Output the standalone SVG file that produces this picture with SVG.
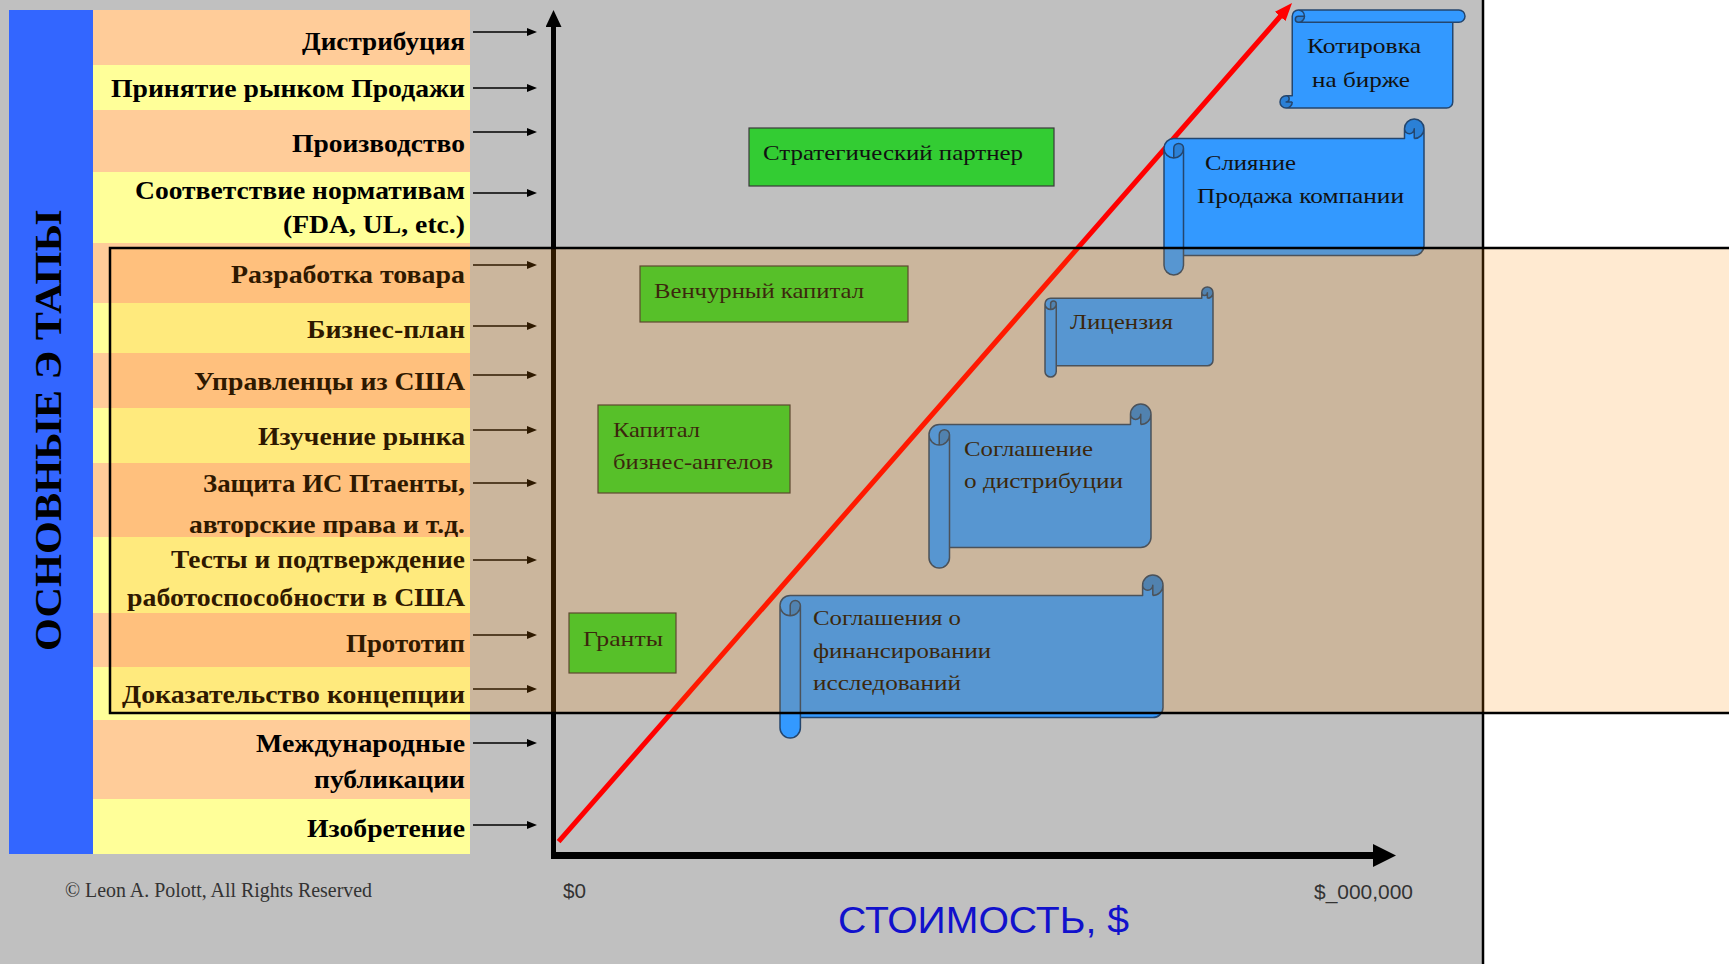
<svg xmlns="http://www.w3.org/2000/svg" width="1729" height="964" viewBox="0 0 1729 964">
<style>
.lbl{font-family:"Liberation Serif","Times New Roman",serif;font-weight:bold;font-size:25px;fill:#000;text-anchor:end}
.nt{font-family:"Liberation Serif","Times New Roman",serif;font-size:22px;fill:#111}
.or{fill:#FFCC99}.ye{fill:#FFFF99}
.arr{stroke:#000;stroke-width:1.5;fill:none;marker-end:url(#ah)}
.grn{fill:#33CC33;stroke:#3a3a3a;stroke-width:1.2}
.scr{fill:#3399FF}.scd{fill:#2B80D6}
.scs{fill:none;stroke:#24466E;stroke-width:1.5;stroke-linejoin:round}
.ax{font-family:"Liberation Sans",Arial,sans-serif;fill:#333}
</style>
<defs>
<marker id="ah" markerUnits="userSpaceOnUse" markerWidth="10" markerHeight="8" refX="2" refY="4" orient="auto"><path d="M0,0 L10,4 L0,8 Z" fill="#000"/></marker>
<marker id="ahY" markerUnits="userSpaceOnUse" markerWidth="17" markerHeight="16" refX="1" refY="8" orient="auto"><path d="M0,0 L17,8 L0,16 Z" fill="#000"/></marker>
<marker id="ahX" markerUnits="userSpaceOnUse" markerWidth="23" markerHeight="23" refX="2" refY="11.5" orient="auto"><path d="M0,0 L23,11.5 L0,23 Z" fill="#000"/></marker>
<marker id="ahR" markerUnits="userSpaceOnUse" markerWidth="18" markerHeight="14" refX="2" refY="7" orient="auto"><path d="M0,0 L18,7 L0,14 Z" fill="#FF0000"/></marker>
</defs>
<rect x="0" y="0" width="1483" height="964" fill="#C0C0C0"/>
<rect x="1483" y="0" width="246" height="964" fill="#FFFFFF"/>
<g id="title-bar">
<rect x="9" y="10" width="84" height="844" fill="#3366FF"/>
<text transform="translate(61,430.5) rotate(-90)" text-anchor="middle" textLength="441" lengthAdjust="spacingAndGlyphs" style="font-family:'Liberation Serif','Times New Roman',serif;font-weight:bold;font-size:38px;fill:#000">ОСНОВНЫЕ Э ТАПЫ</text>
</g>
<g id="stage-distribution"><rect class="or" x="93" y="10" width="377" height="55"/><text class="lbl" x="465" y="50" textLength="163" lengthAdjust="spacingAndGlyphs">Дистрибуция</text></g>
<g id="stage-market"><rect class="ye" x="93" y="65" width="377" height="45"/><text class="lbl" x="465" y="97" textLength="354" lengthAdjust="spacingAndGlyphs">Принятие рынком Продажи</text></g>
<g id="stage-production"><rect class="or" x="93" y="110" width="377" height="62"/><text class="lbl" x="465" y="152" textLength="173" lengthAdjust="spacingAndGlyphs">Производство</text></g>
<g id="stage-compliance"><rect class="ye" x="93" y="172" width="377" height="71"/><text class="lbl" x="465" y="199" textLength="330" lengthAdjust="spacingAndGlyphs">Соответствие нормативам</text><text class="lbl" x="465" y="233" textLength="182" lengthAdjust="spacingAndGlyphs">(FDA, UL, etc.)</text></g>
<g id="stage-development"><rect class="or" x="93" y="243" width="377" height="60"/><text class="lbl" x="465" y="283" textLength="234" lengthAdjust="spacingAndGlyphs">Разработка товара</text></g>
<g id="stage-bizplan"><rect class="ye" x="93" y="303" width="377" height="50"/><text class="lbl" x="465" y="338" textLength="158" lengthAdjust="spacingAndGlyphs">Бизнес-план</text></g>
<g id="stage-managers"><rect class="or" x="93" y="353" width="377" height="55"/><text class="lbl" x="465" y="390" textLength="271" lengthAdjust="spacingAndGlyphs">Управленцы из США</text></g>
<g id="stage-research"><rect class="ye" x="93" y="408" width="377" height="55"/><text class="lbl" x="465" y="445" textLength="207" lengthAdjust="spacingAndGlyphs">Изучение рынка</text></g>
<g id="stage-ip"><rect class="or" x="93" y="463" width="377" height="74"/><text class="lbl" x="465" y="492" textLength="262" lengthAdjust="spacingAndGlyphs">Защита ИС Птаенты,</text><text class="lbl" x="465" y="533" textLength="276" lengthAdjust="spacingAndGlyphs">авторские права и т.д.</text></g>
<g id="stage-tests"><rect class="ye" x="93" y="537" width="377" height="76"/><text class="lbl" x="465" y="568" textLength="294" lengthAdjust="spacingAndGlyphs">Тесты и подтверждение</text><text class="lbl" x="465" y="606" textLength="338" lengthAdjust="spacingAndGlyphs">работоспособности в США</text></g>
<g id="stage-prototype"><rect class="or" x="93" y="613" width="377" height="54"/><text class="lbl" x="465" y="652" textLength="119" lengthAdjust="spacingAndGlyphs">Прототип</text></g>
<g id="stage-concept"><rect class="ye" x="93" y="667" width="377" height="53"/><text class="lbl" x="465" y="703" textLength="343" lengthAdjust="spacingAndGlyphs">Доказательство концепции</text></g>
<g id="stage-publications"><rect class="or" x="93" y="720" width="377" height="79"/><text class="lbl" x="465" y="752" textLength="209" lengthAdjust="spacingAndGlyphs">Международные</text><text class="lbl" x="465" y="788" textLength="151" lengthAdjust="spacingAndGlyphs">публикации</text></g>
<g id="stage-invention"><rect class="ye" x="93" y="799" width="377" height="55"/><text class="lbl" x="465" y="837" textLength="158" lengthAdjust="spacingAndGlyphs">Изобретение</text></g>
<g id="connectors">
<line class="arr" x1="473" y1="32" x2="529" y2="32"/>
<line class="arr" x1="473" y1="88" x2="529" y2="88"/>
<line class="arr" x1="473" y1="132" x2="529" y2="132"/>
<line class="arr" x1="473" y1="193" x2="529" y2="193"/>
<line class="arr" x1="473" y1="265" x2="529" y2="265"/>
<line class="arr" x1="473" y1="326" x2="529" y2="326"/>
<line class="arr" x1="473" y1="375" x2="529" y2="375"/>
<line class="arr" x1="473" y1="430" x2="529" y2="430"/>
<line class="arr" x1="473" y1="483" x2="529" y2="483"/>
<line class="arr" x1="473" y1="560" x2="529" y2="560"/>
<line class="arr" x1="473" y1="635" x2="529" y2="635"/>
<line class="arr" x1="473" y1="689" x2="529" y2="689"/>
<line class="arr" x1="473" y1="743" x2="529" y2="743"/>
<line class="arr" x1="473" y1="825" x2="529" y2="825"/>
<line id="y-axis" x1="553.5" y1="858.5" x2="553.5" y2="26" stroke="#000" stroke-width="5" marker-end="url(#ahY)"/>
<line id="x-axis" x1="551" y1="855.5" x2="1375" y2="855.5" stroke="#000" stroke-width="7" marker-end="url(#ahX)"/>
<line id="value-line" x1="558.6" y1="841.7" x2="1281.5" y2="15" stroke="#FF0000" stroke-width="5" marker-end="url(#ahR)"/>
</g>
<g id="node-strategic"><rect class="grn" x="749" y="128" width="305" height="58"/><text class="nt" x="763" y="160" textLength="260" lengthAdjust="spacingAndGlyphs">Стратегический партнер</text></g>
<g id="node-venture"><rect class="grn" x="640" y="266" width="268" height="56"/><text class="nt" x="654" y="298" textLength="210" lengthAdjust="spacingAndGlyphs">Венчурный капитал</text></g>
<g id="node-angels"><rect class="grn" x="598" y="405" width="192" height="88"/><text class="nt" x="613" y="437" textLength="87" lengthAdjust="spacingAndGlyphs">Капитал</text><text class="nt" x="613" y="469" textLength="160" lengthAdjust="spacingAndGlyphs">бизнес-ангелов</text></g>
<g id="node-grants"><rect class="grn" x="569" y="613" width="107" height="60"/><text class="nt" x="583" y="646" textLength="80" lengthAdjust="spacingAndGlyphs">Гранты</text></g>
<g id="node-ipo">
<g transform="matrix(0 1 1 0 1280 10)">
<path class="scr" d="M98,6.125 A6.125,6.125 0 0 1 91.875,12.25 L91.875,6.125 A3.0625,3.0625 0 0 1 85.75,6.125 L85.75,12.25 L6.125,12.25 A6.125,6.125 0 0 0 0,18.375 L0,178.875 A6.125,6.125 0 0 0 12.25,178.875 L12.25,172.75 L91.875,172.75 A6.125,6.125 0 0 0 98,166.625 Z"/>
<path class="scd" d="M6.125,24.5 A6.125,6.125 0 0 0 12.25,18.375 A3.0625,3.0625 0 0 0 6.125,18.375 Z M91.875,12.25 A6.125,6.125 0 1 0 85.75,6.125 A3.0625,3.0625 0 0 0 91.875,6.125 Z"/>
<path class="scs" d="M0,18.375 A6.125,6.125 0 0 1 6.125,12.25 L85.75,12.25 L85.75,6.125 A6.125,6.125 0 0 1 98,6.125 L98,166.625 A6.125,6.125 0 0 1 91.875,172.75 L12.25,172.75 L12.25,178.875 A6.125,6.125 0 0 1 0,178.875 Z M91.875,12.25 A6.125,6.125 0 0 0 98,6.125 M91.875,12.25 L91.875,6.125 A3.0625,3.0625 0 0 1 85.75,6.125 M6.125,24.5 L6.125,18.375 A3.0625,3.0625 0 0 1 12.25,18.375 A6.125,6.125 0 0 1 0,18.375 M12.25,18.375 L12.25,172.75"/>
</g>
<text class="nt" x="1307" y="53" textLength="114" lengthAdjust="spacingAndGlyphs">Котировка</text>
<text class="nt" x="1312" y="87" textLength="98" lengthAdjust="spacingAndGlyphs">на бирже</text>
</g>
<g id="node-merger">
<g transform="translate(1164,119)">
<path class="scr" d="M260,9.75 A9.75,9.75 0 0 1 250.25,19.5 L250.25,9.75 A4.875,4.875 0 0 1 240.5,9.75 L240.5,19.5 L9.75,19.5 A9.75,9.75 0 0 0 0,29.25 L0,146.25 A9.75,9.75 0 0 0 19.5,146.25 L19.5,136.5 L250.25,136.5 A9.75,9.75 0 0 0 260,126.75 Z"/>
<path class="scd" d="M9.75,39 A9.75,9.75 0 0 0 19.5,29.25 A4.875,4.875 0 0 0 9.75,29.25 Z M250.25,19.5 A9.75,9.75 0 1 0 240.5,9.75 A4.875,4.875 0 0 0 250.25,9.75 Z"/>
<path class="scs" d="M0,29.25 A9.75,9.75 0 0 1 9.75,19.5 L240.5,19.5 L240.5,9.75 A9.75,9.75 0 0 1 260,9.75 L260,126.75 A9.75,9.75 0 0 1 250.25,136.5 L19.5,136.5 L19.5,146.25 A9.75,9.75 0 0 1 0,146.25 Z M250.25,19.5 A9.75,9.75 0 0 0 260,9.75 M250.25,19.5 L250.25,9.75 A4.875,4.875 0 0 1 240.5,9.75 M9.75,39 L9.75,29.25 A4.875,4.875 0 0 1 19.5,29.25 A9.75,9.75 0 0 1 0,29.25 M19.5,29.25 L19.5,136.5"/>
</g>
<text class="nt" x="1205" y="170" textLength="91" lengthAdjust="spacingAndGlyphs">Слияние</text>
<text class="nt" x="1197" y="203" textLength="207" lengthAdjust="spacingAndGlyphs">Продажа компании</text>
</g>
<g id="node-license">
<g transform="translate(1045,287)">
<path class="scr" d="M168,5.625 A5.625,5.625 0 0 1 162.375,11.25 L162.375,5.625 A2.8125,2.8125 0 0 1 156.75,5.625 L156.75,11.25 L5.625,11.25 A5.625,5.625 0 0 0 0,16.875 L0,84.375 A5.625,5.625 0 0 0 11.25,84.375 L11.25,78.75 L162.375,78.75 A5.625,5.625 0 0 0 168,73.125 Z"/>
<path class="scd" d="M5.625,22.5 A5.625,5.625 0 0 0 11.25,16.875 A2.8125,2.8125 0 0 0 5.625,16.875 Z M162.375,11.25 A5.625,5.625 0 1 0 156.75,5.625 A2.8125,2.8125 0 0 0 162.375,5.625 Z"/>
<path class="scs" d="M0,16.875 A5.625,5.625 0 0 1 5.625,11.25 L156.75,11.25 L156.75,5.625 A5.625,5.625 0 0 1 168,5.625 L168,73.125 A5.625,5.625 0 0 1 162.375,78.75 L11.25,78.75 L11.25,84.375 A5.625,5.625 0 0 1 0,84.375 Z M162.375,11.25 A5.625,5.625 0 0 0 168,5.625 M162.375,11.25 L162.375,5.625 A2.8125,2.8125 0 0 1 156.75,5.625 M5.625,22.5 L5.625,16.875 A2.8125,2.8125 0 0 1 11.25,16.875 A5.625,5.625 0 0 1 0,16.875 M11.25,16.875 L11.25,78.75"/>
</g>
<text class="nt" x="1070" y="329" textLength="103" lengthAdjust="spacingAndGlyphs">Лицензия</text>
</g>
<g id="node-distribution-agreement">
<g transform="translate(929,404)">
<path class="scr" d="M222,10.25 A10.25,10.25 0 0 1 211.75,20.5 L211.75,10.25 A5.125,5.125 0 0 1 201.5,10.25 L201.5,20.5 L10.25,20.5 A10.25,10.25 0 0 0 0,30.75 L0,153.75 A10.25,10.25 0 0 0 20.5,153.75 L20.5,143.5 L211.75,143.5 A10.25,10.25 0 0 0 222,133.25 Z"/>
<path class="scd" d="M10.25,41 A10.25,10.25 0 0 0 20.5,30.75 A5.125,5.125 0 0 0 10.25,30.75 Z M211.75,20.5 A10.25,10.25 0 1 0 201.5,10.25 A5.125,5.125 0 0 0 211.75,10.25 Z"/>
<path class="scs" d="M0,30.75 A10.25,10.25 0 0 1 10.25,20.5 L201.5,20.5 L201.5,10.25 A10.25,10.25 0 0 1 222,10.25 L222,133.25 A10.25,10.25 0 0 1 211.75,143.5 L20.5,143.5 L20.5,153.75 A10.25,10.25 0 0 1 0,153.75 Z M211.75,20.5 A10.25,10.25 0 0 0 222,10.25 M211.75,20.5 L211.75,10.25 A5.125,5.125 0 0 1 201.5,10.25 M10.25,41 L10.25,30.75 A5.125,5.125 0 0 1 20.5,30.75 A10.25,10.25 0 0 1 0,30.75 M20.5,30.75 L20.5,143.5"/>
</g>
<text class="nt" x="964" y="456" textLength="129" lengthAdjust="spacingAndGlyphs">Соглашение</text>
<text class="nt" x="964" y="488" textLength="159" lengthAdjust="spacingAndGlyphs">о дистрибуции</text>
</g>
<g id="node-research-funding">
<g transform="translate(780,575)">
<path class="scr" d="M383,10.2 A10.2,10.2 0 0 1 372.8,20.4 L372.8,10.2 A5.1,5.1 0 0 1 362.6,10.2 L362.6,20.4 L10.2,20.4 A10.2,10.2 0 0 0 0,30.6 L0,152.8 A10.2,10.2 0 0 0 20.4,152.8 L20.4,142.6 L372.8,142.6 A10.2,10.2 0 0 0 383,132.4 Z"/>
<path class="scd" d="M10.2,40.8 A10.2,10.2 0 0 0 20.4,30.6 A5.1,5.1 0 0 0 10.2,30.6 Z M372.8,20.4 A10.2,10.2 0 1 0 362.6,10.2 A5.1,5.1 0 0 0 372.8,10.2 Z"/>
<path class="scs" d="M0,30.6 A10.2,10.2 0 0 1 10.2,20.4 L362.6,20.4 L362.6,10.2 A10.2,10.2 0 0 1 383,10.2 L383,132.4 A10.2,10.2 0 0 1 372.8,142.6 L20.4,142.6 L20.4,152.8 A10.2,10.2 0 0 1 0,152.8 Z M372.8,20.4 A10.2,10.2 0 0 0 383,10.2 M372.8,20.4 L372.8,10.2 A5.1,5.1 0 0 1 362.6,10.2 M10.2,40.8 L10.2,30.6 A5.1,5.1 0 0 1 20.4,30.6 A10.2,10.2 0 0 1 0,30.6 M20.4,30.6 L20.4,142.6"/>
</g>
<text class="nt" x="813" y="625" textLength="148" lengthAdjust="spacingAndGlyphs">Соглашения о</text>
<text class="nt" x="813" y="658" textLength="178" lengthAdjust="spacingAndGlyphs">финансировании</text>
<text class="nt" x="813" y="690" textLength="148" lengthAdjust="spacingAndGlyphs">исследований</text>
</g>
<line x1="1483" y1="0" x2="1483" y2="964" stroke="#000" stroke-width="2.5"/>
<rect id="early-stage-zone" x="110" y="248" width="1630" height="465" fill="rgb(255,140,0)" fill-opacity="0.18" stroke="#000" stroke-width="2.5"/>
<g id="footer">
<text x="65" y="897" textLength="307" lengthAdjust="spacingAndGlyphs" style="font-family:'Liberation Serif','Times New Roman',serif;font-size:20px;fill:#333">© Leon A. Polott, All Rights Reserved</text>
<text class="ax" x="563" y="898" font-size="20" textLength="23" lengthAdjust="spacingAndGlyphs">$0</text>
<text class="ax" x="1314" y="899" font-size="21" textLength="99" lengthAdjust="spacingAndGlyphs">$_000,000</text>
<text x="838" y="933" textLength="291" lengthAdjust="spacingAndGlyphs" style="font-family:'Liberation Sans',Arial,sans-serif;font-size:37px;fill:#1111CC">СТОИМОСТЬ, $</text>
</g>
</svg>
